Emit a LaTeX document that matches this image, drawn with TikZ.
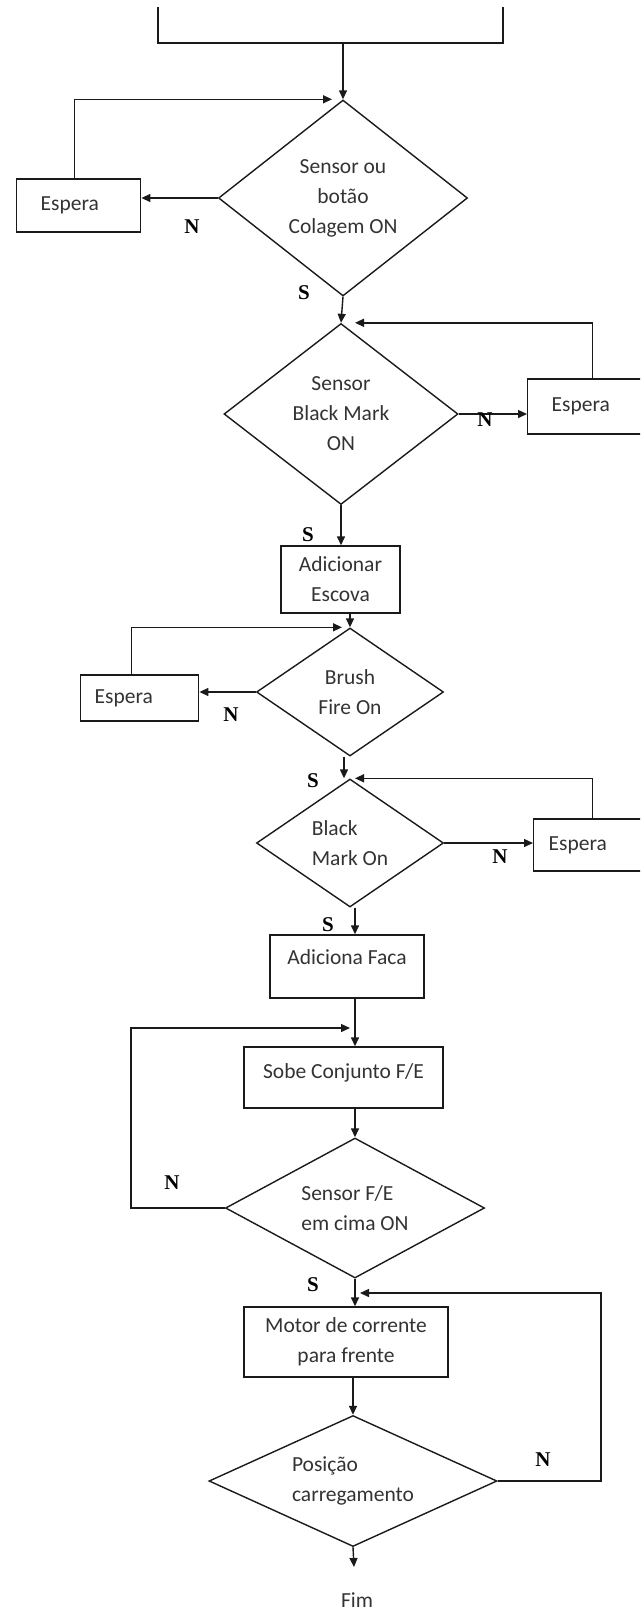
\documentclass[tikz,border=0pt]{standalone}
\usepackage{fontspec}
\setmainfont{Carlito}
\newfontfamily\lblfont{Liberation Serif}
\usetikzlibrary{arrows.meta,positioning,shapes.geometric}
\definecolor{fcline}{HTML}{1A1A1A}
\definecolor{fctext}{HTML}{333333}
\newcommand\fcfont{\fontsize{21.5pt}{30pt}\selectfont}

\begin{document}
\begin{tikzpicture}[x=1pt,y=-1pt,
      box/.style={draw=fcline,line width=1.4pt,rectangle,inner sep=0pt,align=center,font=\fcfont,text=fctext},
      espera/.style={box,anchor=west,align=left},
      dec/.style={draw=fcline,line width=1.4pt,diamond,inner sep=0pt,font=\fcfont,text=fctext},
      lbl/.style={font=\lblfont\bfseries\fontsize{21pt}{24pt}\selectfont,inner sep=0pt},
      arr/.style={-{Triangle[length=9pt,width=8pt]},draw=fcline,line width=1.4pt}]
    \useasboundingbox (0,0) rectangle (640,1611);
    \clip (0,8) rectangle (640,1611);

    % main column
    \node[draw=fcline,line width=1.4pt,minimum width=345pt,minimum height=83pt] (inicio) at (330.5,1.5) {};
    \node[dec,minimum width=249pt,minimum height=196pt,shape aspect=1.27,align=center] (d1) at (343,198) {Sensor ou\\botão\\Colagem ON};
    \node[dec,minimum width=234pt,minimum height=181pt,shape aspect=1.29,align=center] (d2) at (341,414) {Sensor\\Black Mark\\ON};
    \node[box,minimum width=119pt,minimum height=67pt] (addesc) at (340.5,579.5) {Adicionar\\Escova};
    \node[dec,minimum width=187pt,minimum height=128pt,shape aspect=1.46,align=center] (d3) at (350,692) {Brush\\Fire On};
    \node[dec,minimum width=187pt,minimum height=128pt,shape aspect=1.46,align=left] (d4) at (350,843) {Black\\Mark On};
    \node[box,minimum width=154pt,text height=29pt,text depth=34pt] (faca) at (347,966.5) {Adiciona Faca};
    \node[box,minimum width=199pt,text height=31pt,text depth=30pt] (sobe) at (343.5,1077.5) {Sobe Conjunto F/E};
    \node[dec,minimum width=259pt,minimum height=140pt,shape aspect=1.85,align=left] (d5) at (355,1208) {Sensor F/E\\em cima ON};
    \node[box,minimum width=204pt,minimum height=70pt] (motor) at (346,1342) {Motor de corrente\\para frente};
    \node[dec,minimum width=288pt,minimum height=131pt,shape aspect=2.2,align=left] (d6) at (353,1481) {Posição\\carregamento};
    \node[font=\fcfont,text=fctext] (fim) at (357,1600) {Fim};

    % wait boxes
    \node[espera,minimum height=53pt,text width=76pt,inner xsep=24pt] (esp1) at (16,205.5) {Espera};
    \node[espera,minimum height=55pt,text width=82pt,inner xsep=24pt] (esp2) at (527,406.5) {Espera};
    \node[espera,minimum height=46pt,text width=90pt,inner xsep=14pt] (esp3) at (80,698) {Espera};
    \node[espera,minimum height=52pt,text width=88pt,inner xsep=15pt] (esp4) at (533,845) {Espera};

    \coordinate (loop5) at (131,1028);
    \coordinate (join5) at (350,1028);
    \coordinate (loop6) at (601,1293);
    \coordinate (join6) at (360,1293);
    \coordinate (fimtop) at (354,1567);

    % connectors
    \draw[arr] (inicio.south -| d1.north) -- (d1.north);
    \draw[arr] (d1.west) -- (d1.west -| esp1.east);
    \draw[arr] ([xshift=-4pt]esp1.north) |- ([xshift=-11pt]d1.north);
    \draw[arr] (d1.south) -- (d2.north);
    \draw[arr] (d2.east) -- (d2.east -| esp2.west);
    \draw[arr] (esp2.north) |- ([xshift=14pt]d2.north);
    \draw[arr] (d2.south) -- (d2.south |- addesc.north);
    \draw[arr] (addesc.south -| d3.north) -- (d3.north);
    \draw[arr] (d3.west) -- (d3.west -| esp3.east);
    \draw[arr] ([xshift=-8pt]esp3.north) |- ([xshift=-8pt]d3.north);
    \draw[arr] ([xshift=-6pt]d3.south) -- ([xshift=-6pt]d4.north);
    \draw[arr] (d4.east) -- (d4.east -| esp4.west);
    \draw[arr] (esp4.north) |- ([xshift=5pt]d4.north);
    \draw[arr] (d4.south -| d5.north) -- (faca.north -| d5.north);
    \draw[arr] (faca.south -| d5.north) -- (sobe.north -| d5.north);
    \draw[arr] (d5.west) -| (loop5) -- (join5);
    \draw[arr] (sobe.south -| d5.north) -- (d5.north);
    \draw[arr] (d5.south) -- (d5.south |- motor.north);
    \draw[arr] (motor.south -| d6.north) -- (d6.north);
    \draw[arr] (d6.east) -| (loop6) -- (join6);
    \draw[arr] (d6.south) -- (fimtop);

    % S / N labels
    \node[lbl] (n1) at (192,227) {N};
    \node[lbl] (s1) at (304,293) {S};
    \node[lbl] (n2) at (485,420) {N};
    \node[lbl] (s2) at (308,535) {S};
    \node[lbl] (n3) at (231,715) {N};
    \node[lbl] (s3) at (313,781) {S};
    \node[lbl] (n4) at (500,857) {N};
    \node[lbl] (s4) at (328,925) {S};
    \node[lbl] (n5) at (172,1183) {N};
    \node[lbl] (s5) at (313,1285) {S};
    \node[lbl] (n6) at (543,1460) {N};
  \end{tikzpicture}
\end{document}
